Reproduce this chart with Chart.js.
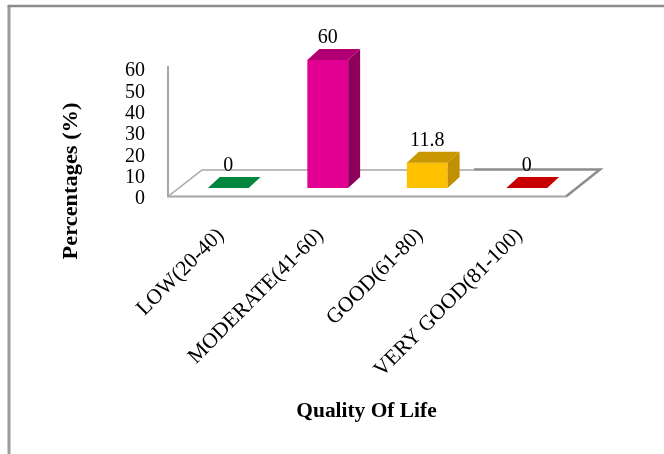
<!DOCTYPE html>
<html>
<head>
<meta charset="utf-8">
<title>Quality Of Life</title>
<script src="https://cdn.jsdelivr.net/npm/chart.js@4"></script>
<style>
html, body { margin: 0; padding: 0; background: #fff; }
canvas { display: block; }
</style>
</head>
<body>
<canvas id="chart" width="664" height="454"></canvas>
<script>
const categories = ['LOW(20-40)', 'MODERATE(41-60)', 'GOOD(61-80)', 'VERY GOOD(81-100)'];
const values = [0, 60, 11.8, 0];
const valueLabels = ['0', '60', '11.8', '0'];
const tickValues = [0, 10, 20, 30, 40, 50, 60];
const frontColors = ['#00863d', '#e20092', '#ffc000', '#c80000'];
const sideColors = ['#00863d', '#8f005c', '#c09000', '#c80000'];
const topColors = ['#00863d', '#b00074', '#c99700', '#c80000'];
const xTitle = 'Quality Of Life';
const yTitle = 'Percentages (%)';

const SERIF = '"Liberation Serif", "Times New Roman", serif';
const depthX = 12;
const depthY = 11;

function poly(ctx, pts, fill) {
    ctx.beginPath();
    pts.forEach((p, i) => i ? ctx.lineTo(p[0], p[1]) : ctx.moveTo(p[0], p[1]));
    ctx.closePath();
    ctx.fillStyle = fill;
    ctx.fill();
}

function line(ctx, pts, color, width) {
    ctx.beginPath();
    pts.forEach((p, i) => i ? ctx.lineTo(p[0], p[1]) : ctx.moveTo(p[0], p[1]));
    ctx.strokeStyle = color;
    ctx.lineWidth = width;
    ctx.stroke();
}

// page frame, floor and back wall, drawn under the bars
const backdrop = {
    id: 'backdrop',
    beforeDatasetsDraw(chart) {
        const ctx = chart.ctx;
        ctx.save();
        line(ctx, [[9, 454], [9, 6]], '#9c9c9c', 3);
        line(ctx, [[7.5, 6], [664, 6]], '#8c8c8c', 2.5);
        line(ctx, [[168, 66], [168, 196.5], [566, 196.5]], '#a6a6a6', 2);
        line(ctx, [[168, 196.5], [202, 170], [474, 170]], '#a6a6a6', 1.5);
        line(ctx, [[474, 169.5], [600, 169.5], [566, 196.5]], '#8c8c8c', 2.5);
        ctx.restore();
    }
};

// 3D faces and value labels on top of each bar
const bars3d = {
    id: 'bars3d',
    afterDatasetsDraw(chart) {
        const ctx = chart.ctx;
        const meta = chart.getDatasetMeta(0);
        ctx.save();
        meta.data.forEach((bar, i) => {
            const half = bar.width / 2;
            const l = bar.x - half, r = bar.x + half, t = bar.y, b = bar.base;
            if (values[i] > 0) {
                poly(ctx, [[r, t], [r + depthX, t - depthY], [r + depthX, b - depthY], [r, b]], sideColors[i]);
                poly(ctx, [[l, t], [l + depthX, t - depthY], [r + depthX, t - depthY], [r, t]], topColors[i]);
            } else {
                poly(ctx, [[l, b], [l + depthX, b - depthY], [r + depthX, b - depthY], [r, b]], topColors[i]);
            }
            ctx.fillStyle = '#000';
            ctx.font = '20px ' + SERIF;
            ctx.textAlign = 'center';
            ctx.textBaseline = 'alphabetic';
            ctx.fillText(valueLabels[i], bar.x, t - depthY - 6);
        });
        ctx.restore();
    }
};

// axis titles are off-centre and slightly stretched in the original
const axisTitles = {
    id: 'axisTitles',
    afterDraw(chart) {
        const ctx = chart.ctx;
        ctx.save();
        ctx.fillStyle = '#000';
        ctx.font = 'bold 20px ' + SERIF;
        ctx.textAlign = 'center';
        ctx.textBaseline = 'alphabetic';
        ctx.save();
        ctx.translate(366.5, 417);
        ctx.scale(1.07, 1);
        ctx.fillText(xTitle, 0, 0);
        ctx.restore();
        ctx.translate(77, 181);
        ctx.rotate(-Math.PI / 2);
        ctx.scale(1.12, 1);
        ctx.fillText(yTitle, 0, 0);
        ctx.restore();
    }
};

new Chart(document.getElementById('chart'), {
    type: 'bar',
    data: {
        labels: categories,
        datasets: [{
            data: values,
            yAxisID: 'bars',
            backgroundColor: frontColors,
            borderWidth: 0,
            barPercentage: 0.41,
            categoryPercentage: 1
        }]
    },
    options: {
        responsive: false,
        animation: false,
        layout: { padding: { top: 56, right: 87.5, left: 56.5, bottom: 26 } },
        plugins: { legend: { display: false }, tooltip: { enabled: false } },
        scales: {
            x: {
                grid: { display: false },
                border: { display: false },
                afterFit: s => { s.height = 227; },
                ticks: {
                    color: '#000',
                    font: { family: SERIF, size: 21.5 },
                    minRotation: 45,
                    maxRotation: 45,
                    padding: 14,
                    labelOffset: -7.5,
                    autoSkip: false
                }
            },
            // bars sit a little above the labelled zero of the floor
            bars: {
                display: false,
                min: -6.1,
                max: 61.9
            },
            y: {
                position: 'left',
                min: -0.94,
                max: 67.04,
                grid: { display: false },
                border: { display: false },
                afterFit: s => { s.width = 122; },
                afterBuildTicks: s => { s.ticks = tickValues.map(v => ({ value: v })); },
                ticks: {
                    color: '#000',
                    font: { family: SERIF, size: 20 },
                    padding: 25.5,
                    autoSkip: false,
                    callback: v => String(v)
                }
            }
        }
    },
    plugins: [backdrop, bars3d, axisTitles]
});
</script>
</body>
</html>
